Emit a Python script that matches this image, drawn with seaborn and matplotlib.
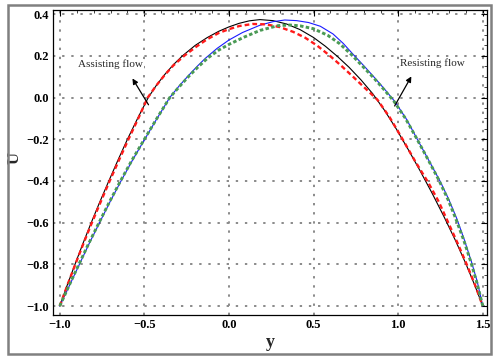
import matplotlib
matplotlib.use("Agg")
import matplotlib.pyplot as plt
import seaborn as sns
import pandas as pd
from matplotlib.patches import Rectangle
from matplotlib.ticker import MultipleLocator

# ---- data ----
black_x = [-1.0, -0.956, -0.91, -0.863, -0.814, -0.763, -0.71, -0.656, -0.60, -0.54, -0.477, -0.428, -0.378, -0.328, -0.275, -0.20, -0.13, -0.06, 0.0, 0.06, 0.12, 0.183,
           0.26, 0.34, 0.42, 0.50, 0.57, 0.64, 0.71, 0.78, 0.85, 0.92, 0.99, 1.06, 1.13, 1.20, 1.27, 1.34, 1.40, 1.45, 1.5]
black_y = [-1.0, -0.9, -0.8, -0.7, -0.6, -0.5, -0.4, -0.3, -0.2, -0.1, 0.0, 0.06, 0.112, 0.158, 0.2, 0.25, 0.287, 0.318, 0.339, 0.356, 0.368, 0.374,
           0.369, 0.353, 0.326, 0.288, 0.246, 0.198, 0.145, 0.085, 0.018, -0.062, -0.152, -0.250, -0.352, -0.458, -0.570, -0.688, -0.797, -0.895, -1.0]

red_x = [-1.0, -0.955, -0.908, -0.86, -0.81, -0.758, -0.705, -0.65, -0.594, -0.536, -0.48, -0.432, -0.383, -0.33, -0.265, -0.195, -0.132, -0.06, 0.0, 0.06, 0.14, 0.22,
         0.30, 0.38, 0.45, 0.52, 0.597, 0.667, 0.737, 0.807, 0.877, 0.95, 1.026, 1.10, 1.178, 1.24, 1.296, 1.352, 1.405, 1.455, 1.5]
red_y = [-1.0, -0.9, -0.8, -0.7, -0.6, -0.5, -0.4, -0.3, -0.2, -0.1, 0.0, 0.055, 0.105, 0.153, 0.2, 0.243, 0.278, 0.31, 0.328, 0.343, 0.353, 0.351,
         0.338, 0.315, 0.287, 0.25, 0.2, 0.15, 0.097, 0.043, -0.01, -0.095, -0.2, -0.305, -0.408, -0.5, -0.6, -0.7, -0.8, -0.9, -1.0]

blue_x = [-1.0, -0.942, -0.884, -0.826, -0.765, -0.703, -0.638, -0.57, -0.498, -0.425, -0.35, -0.295, -0.24, -0.19, -0.14, -0.07, 0.0, 0.08, 0.183, 0.26, 0.33,
          0.40, 0.47, 0.54, 0.615, 0.675, 0.733, 0.80, 0.863, 0.925, 0.981, 1.05, 1.113, 1.18, 1.247, 1.30, 1.346, 1.39, 1.434, 1.468, 1.5]
blue_y = [-1.0, -0.9, -0.8, -0.7, -0.6, -0.5, -0.4, -0.3, -0.2, -0.1, 0.0, 0.055, 0.105, 0.148, 0.188, 0.236, 0.276, 0.312, 0.347, 0.364, 0.372,
          0.369, 0.36, 0.342, 0.305, 0.26, 0.208, 0.15, 0.093, 0.035, -0.02, -0.105, -0.2, -0.3, -0.4, -0.49, -0.58, -0.68, -0.79, -0.885, -1.0]

green_x = [-1.0, -0.944, -0.887, -0.829, -0.768, -0.706, -0.641, -0.573, -0.50, -0.426, -0.35, -0.296, -0.24, -0.185, -0.125, -0.06, 0.0, 0.09, 0.183, 0.29, 0.36,
           0.42, 0.50, 0.585, 0.655, 0.725, 0.79, 0.857, 0.92, 0.977, 1.043, 1.105, 1.175, 1.24, 1.295, 1.34, 1.388, 1.43, 1.466, 1.5]
green_y = [-1.0, -0.9, -0.8, -0.7, -0.6, -0.5, -0.4, -0.3, -0.2, -0.1, 0.0, 0.05, 0.1, 0.145, 0.19, 0.228, 0.255, 0.29, 0.322, 0.345, 0.348,
           0.344, 0.33, 0.298, 0.258, 0.205, 0.15, 0.093, 0.035, -0.02, -0.1, -0.19, -0.295, -0.395, -0.49, -0.58, -0.685, -0.79, -0.89, -1.0]

x_ticks = [-1.0, -0.5, 0.0, 0.5, 1.0, 1.5]
y_ticks = [-1.0, -0.8, -0.6, -0.4, -0.2, 0.0, 0.2, 0.4]
x_label = "y"
y_label = "U"
note_assist = "Assisting flow"
note_resist = "Resisting flow"

sns.set_style("white")
plt.rcParams['font.family'] = ['Liberation Serif', 'DejaVu Serif']
plt.rcParams['axes.unicode_minus'] = True

fig = plt.figure(figsize=(4.93, 3.58), dpi=100)
ax = fig.add_axes([53/493, 1-315/358, (487-53)/493, (315-10)/358])

def df(x, y):
    return pd.DataFrame({"x": x, "y": y})

sns.lineplot(data=df(black_x, black_y), x="x", y="y", ax=ax, color="black", lw=0.8, sort=False)
sns.lineplot(data=df(blue_x, blue_y), x="x", y="y", ax=ax, color="#1a1aff", lw=0.8, sort=False)
sns.lineplot(data=df(red_x, red_y), x="x", y="y", ax=ax, color="#ff1a1a", lw=1.7, sort=False)
ax.lines[-1].set_dashes((2.0, 1.3))
sns.lineplot(data=df(green_x, green_y), x="x", y="y", ax=ax, color="#4a9a55", lw=2.1, sort=False)
ax.lines[-1].set_dashes((1.2, 0.8))
for ln in ax.lines:
    ln.set_solid_joinstyle("round")
    ln.set_dash_joinstyle("round")

ax.set_xlim(-1.04, 1.525)
ax.set_ylim(-1.043, 0.42)
ax.set_xticks(x_ticks)
ax.set_yticks(y_ticks)
ax.set_xticklabels([f"{v:.1f}".replace("-", "\u2212") for v in x_ticks], fontweight="bold", fontsize=9)
ax.set_yticklabels([f"{v:.1f}".replace("-", "\u2212") for v in y_ticks], fontweight="bold", fontsize=9)
ax.xaxis.set_minor_locator(MultipleLocator(0.1))
ax.yaxis.set_minor_locator(MultipleLocator(0.05))
ax.tick_params(which="major", direction="in", length=4, width=0.8, top=True, right=True, pad=3, colors="black")
ax.tick_params(which="minor", direction="in", length=2.2, width=0.6, top=True, right=True)
ax.grid(True, which="major", color="#8a8a8a", linestyle=(0, (1.2, 3.5)), linewidth=1.4)
for s in ax.spines.values():
    s.set_color("black")
    s.set_linewidth(0.9)

ax.set_xlabel(x_label, fontweight="bold", fontsize=13, labelpad=2)
ax.set_ylabel(y_label, fontweight="bold", fontsize=12)
ax.yaxis.label.set_va("center")
ax.yaxis.set_label_coords(-0.088, 0.515)

ax.annotate("", xy=(-0.579, 0.103), xytext=(-0.467, -0.046),
            arrowprops=dict(arrowstyle="-|>", color="black", lw=0.9, mutation_scale=8))
ax.text(-0.70, 0.16, note_assist, ha="center", va="center", fontsize=8,
        bbox=dict(facecolor="white", edgecolor="none", pad=0.5))
ax.annotate("", xy=(1.086, 0.113), xytext=(0.971, -0.052),
            arrowprops=dict(arrowstyle="-|>", color="black", lw=0.9, mutation_scale=8))
ax.text(1.20, 0.165, note_resist, ha="center", va="center", fontsize=8,
        bbox=dict(facecolor="white", edgecolor="none", pad=0.5))

fig.patches.append(Rectangle((8/493, 4/358), (491-8)/493, (353-4)/358, transform=fig.transFigure,
                             fill=False, edgecolor="#808080", linewidth=1.8))

fig.savefig("out.png", dpi=100)
